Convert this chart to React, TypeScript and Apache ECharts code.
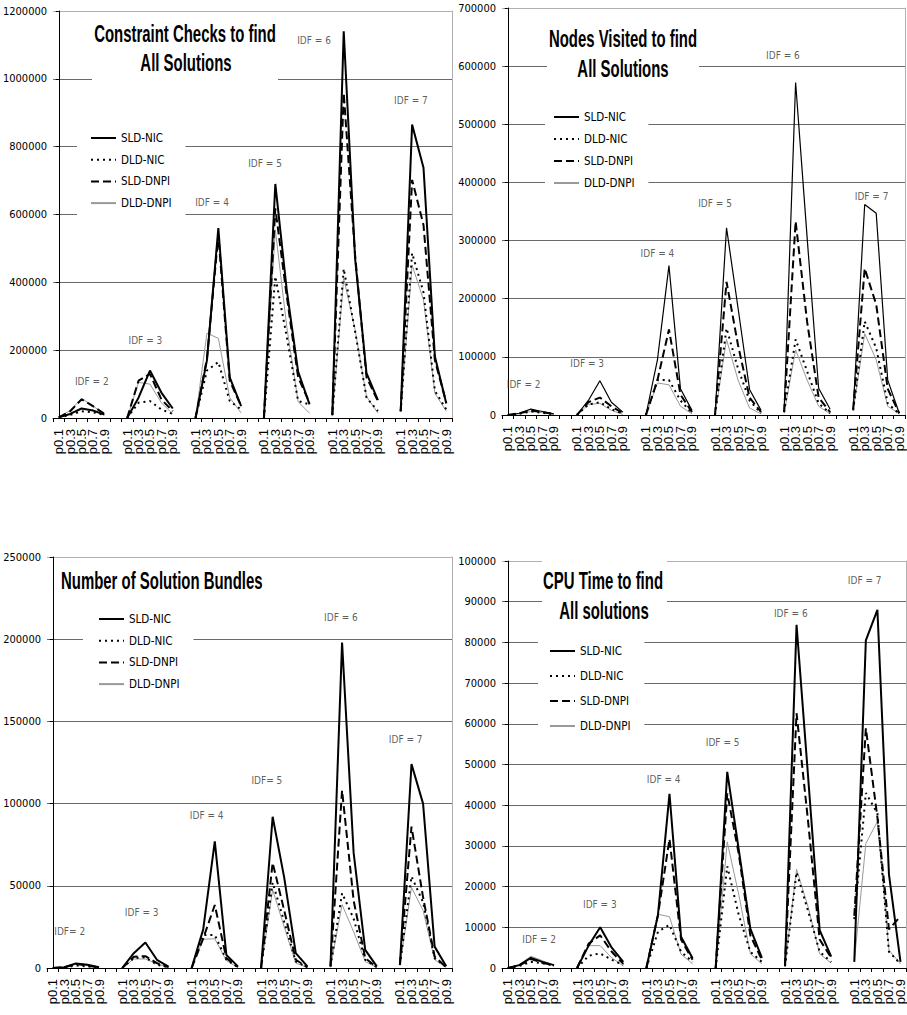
import React, { useEffect, useRef } from "react";
import * as echarts from "echarts";

// ---------- categories ----------
const pLabels = ["p0.1", "p0.3", "p0.5", "p0.7", "p0.9"];
const idfGroups = [2, 3, 4, 5, 6, 7];
const seriesNames = ["SLD-NIC", "DLD-NIC", "SLD-DNPI", "DLD-DNPI"];

// ---------- Constraint Checks (per IDF group: p0.1..p0.9) ----------
const ccSldNic = [2000, 12000, 28000, 22000, 10000, 0, 60000, 140000, 75000, 28000, 0, 170000, 560000, 120000, 35000, 0, 690000, 378000, 137000, 40000, 10000, 1140000, 470000, 132000, 53000, 20000, 865000, 738000, 181000, 43000];
const ccDldNic = [1000, 9000, 20000, 17000, 9000, 0, 45000, 50000, 25000, 12000, 0, 140000, 165000, 50000, 25000, 0, 417000, 240000, 50000, 40000, 8000, 440000, 255000, 60000, 20000, 20000, 486000, 370000, 80000, 25000];
const ccSldDnpi = [2000, 20000, 55000, 35000, 12000, 0, 110000, 130000, 55000, 20000, 0, 175000, 540000, 110000, 35000, 0, 618000, 360000, 120000, 45000, 10000, 958000, 480000, 120000, 50000, 20000, 702000, 569000, 170000, 45000];
const ccDldDnpi = [3000, 22000, 58000, 36000, 10000, 0, 105000, 100000, 45000, 12000, 0, 250000, 235000, 60000, 15000, 0, 555000, 270000, 48000, 14000, 5000, 412000, 260000, 63000, 15000, 20000, 451000, 348000, 73000, 20000];

// ---------- Nodes Visited ----------
const nvSldNic = [0, 3000, 10000, 6000, 2000, 0, 25000, 59000, 22000, 5000, 0, 95000, 257000, 45000, 8000, 0, 322000, 184000, 44000, 8000, 5000, 572000, 305000, 46000, 10000, 10000, 362000, 347000, 60000, 3000];
const nvDldNic = [0, 2000, 6000, 4000, 1000, 0, 18000, 22000, 10000, 2000, 0, 60000, 60000, 25000, 3000, 0, 149000, 80000, 25000, 3000, 5000, 130000, 75000, 20000, 3000, 8000, 161000, 115000, 20000, 2000];
const nvSldDnpi = [0, 3000, 8000, 5000, 2000, 0, 22000, 30000, 15000, 3000, 0, 60000, 147000, 35000, 5000, 0, 229000, 120000, 30000, 5000, 5000, 333000, 160000, 30000, 5000, 10000, 252000, 190000, 45000, 3000];
const nvDldDnpi = [0, 2000, 6000, 4000, 1000, 0, 18000, 20000, 8000, 1000, 0, 55000, 52000, 15000, 2000, 0, 130000, 60000, 12000, 2000, 3000, 112000, 60000, 15000, 2000, 8000, 140000, 95000, 15000, 2000];

// ---------- Number of Solution Bundles ----------
const sbSldNic = [0, 500, 2800, 2000, 500, 0, 9000, 15500, 5000, 800, 0, 23500, 77000, 8000, 1000, 0, 92000, 55000, 9000, 1000, 1000, 198000, 70000, 11000, 1000, 2000, 124000, 100000, 13000, 1000];
const sbDldNic = [0, 300, 1500, 1000, 200, 0, 6000, 6500, 2000, 400, 0, 20000, 20000, 5000, 400, 0, 52000, 28000, 4000, 400, 1000, 45500, 30000, 5000, 500, 2000, 55700, 40000, 6000, 500];
const sbSldDnpi = [0, 400, 2500, 1500, 300, 0, 6800, 7200, 3000, 500, 0, 18000, 38300, 6000, 600, 0, 64000, 35000, 5000, 500, 1000, 108000, 41000, 6000, 500, 2000, 86000, 43000, 7000, 500];
const sbDldDnpi = [0, 400, 2200, 1400, 300, 0, 5500, 5500, 2500, 300, 0, 17500, 17800, 4500, 300, 0, 47600, 25000, 3000, 300, 500, 38500, 22000, 4000, 300, 1500, 49000, 35000, 5000, 300];

// ---------- CPU Time ----------
const ctSldNic = [0, 700, 2500, 1500, 700, 0, 5500, 10000, 5000, 1500, 0, 13000, 42800, 7700, 2400, 0, 48200, 29000, 9700, 2500, 600, 84300, 47000, 9300, 2800, 1500, 80500, 88000, 23000, 1500];
const ctDldNic = [0, 500, 1500, 1200, 500, 0, 3000, 3600, 2000, 800, 0, 8900, 10600, 4000, 1500, 0, 25000, 13000, 4000, 1500, 400, 23500, 14000, 4000, 1500, 12000, 43000, 38000, 4000, 1000];
const ctSldDnpi = [0, 600, 2200, 1300, 600, 0, 6000, 8000, 4000, 1000, 0, 13000, 31700, 7000, 2000, 0, 42900, 28000, 8000, 2000, 500, 62600, 36000, 7000, 2500, 12800, 58900, 37000, 9500, 12700];
const ctDldDnpi = [0, 800, 2900, 1800, 600, 0, 5500, 5500, 2500, 500, 0, 13200, 12600, 3400, 1000, 0, 31000, 18000, 3500, 1000, 400, 24300, 15000, 3500, 1200, 1500, 30600, 36000, 4400, 1000];

// ---------- IDF annotations (category position, value) ----------
const ccIdfText = ["IDF = 2", "IDF = 3", "IDF = 4", "IDF = 5", "IDF = 6", "IDF = 7"];
const ccIdfX = [2.9, 7.6, 13.45, 18.1, 22.4, 30.9];
const ccIdfY = [108000, 229000, 636000, 750000, 1113000, 936000];
const nvIdfText = ["IDF = 2", "IDF = 3", "IDF = 4", "IDF = 5", "IDF = 6", "IDF = 7"];
const nvIdfX = [1.38, 6.9, 13.0, 18.0, 23.9, 31.6];
const nvIdfY = [53000, 88000, 277000, 364000, 618000, 376000];
const sbIdfText = ["IDF= 2", "IDF = 3", "IDF = 4", "IDF= 5", "IDF = 6", "IDF = 7"];
const sbIdfX = [1.46, 7.68, 13.3, 18.5, 24.9, 30.5];
const sbIdfY = [21900, 33800, 92700, 114000, 213000, 139000];
const ctIdfText = ["IDF = 2", "IDF = 3", "IDF = 4", "IDF = 5", "IDF = 6", "IDF = 7"];
const ctIdfX = [2.72, 7.97, 13.5, 18.6, 24.5, 30.9];
const ctIdfY = [6900, 15700, 46400, 55400, 87100, 95100];

const NARROW = "'Liberation Sans Narrow','Arial Narrow','DejaVu Sans Condensed',sans-serif";
const SANS = "'Liberation Sans',Arial,sans-serif";

const categories: string[] = [];
idfGroups.forEach((_, g) => {
  pLabels.forEach((p) => categories.push(p));
  if (g < idfGroups.length - 1) categories.push("");
});

function expand(vals: number[]) {
  const out: (number | null)[] = [];
  idfGroups.forEach((_, g) => {
    for (let k = 0; k < pLabels.length; k++) out.push(vals[g * pLabels.length + k]);
    if (g < idfGroups.length - 1) out.push(null);
  });
  return out;
}

const panels = [
  {
    grid: { left: 51, top: 11, width: 401, height: 407 },
    yMax: 1200000, yInt: 200000,
    data: [ccSldNic, ccDldNic, ccSldDnpi, ccDldDnpi], sldWidth: 2,
    idfText: ccIdfText, idfX: ccIdfX, idfY: ccIdfY,
    legend: { left: 77, top: 125, padding: [7, 14, 7, 13], itemGap: 9.7 },
  },
  {
    grid: { left: 502, top: 8, width: 403, height: 407 },
    yMax: 700000, yInt: 100000,
    data: [nvSldNic, nvDldNic, nvSldDnpi, nvDldDnpi], sldWidth: 1.2,
    idfText: nvIdfText, idfX: nvIdfX, idfY: nvIdfY,
    legend: { left: 545, top: 104, padding: [7, 14, 7, 8], itemGap: 10 },
  },
  {
    grid: { left: 47, top: 557, width: 405, height: 411 },
    yMax: 250000, yInt: 50000,
    data: [sbSldNic, sbDldNic, sbSldDnpi, sbDldDnpi], sldWidth: 2,
    idfText: sbIdfText, idfX: sbIdfX, idfY: sbIdfY,
    legend: { left: 83, top: 606, padding: [7, 14, 7, 15], itemGap: 9.7 },
  },
  {
    grid: { left: 502, top: 561, width: 405, height: 407 },
    yMax: 100000, yInt: 10000,
    data: [ctSldNic, ctDldNic, ctSldDnpi, ctDldDnpi], sldWidth: 2,
    idfText: ctIdfText, idfX: ctIdfX, idfY: ctIdfY,
    legend: { left: 538, top: 638, padding: [7, 14, 7, 11], itemGap: 13 },
  },
];

function lineStyleFor(s: number, sldWidth: number) {
  if (s === 0) return { color: "#000", width: sldWidth, type: "solid" };
  if (s === 1) return { color: "#000", width: 2, type: [2, 4] };
  if (s === 2) return { color: "#000", width: 2, type: [8, 4] };
  return { color: "#999", width: 1, type: "solid" };
}

function titleText(text: string, x: number, y: number, align: string) {
  return {
    type: "text",
    x, y, scaleX: 0.65, z: 20,
    style: {
      text, fill: "#000", fontSize: 23, fontWeight: "bold", fontFamily: SANS,
      align, verticalAlign: "middle", textAlign: align, textVerticalAlign: "middle",
    },
  };
}

function whiteRect(x1: number, y1: number, x2: number, y2: number) {
  return { type: "rect", z: 10, shape: { x: x1, y: y1, width: x2 - x1, height: y2 - y1 }, style: { fill: "#fff" } };
}

function buildOption() {
  const grids: any[] = [];
  const xAxes: any[] = [];
  const yAxes: any[] = [];
  const series: any[] = [];
  const legends: any[] = [];

  panels.forEach((p, g) => {
    grids.push({ ...p.grid, show: false });
    const nTicks = Math.round(p.yMax / p.yInt) + 1;
    const splitColors = Array.from({ length: nTicks }, (_, i) => (i === nTicks - 1 ? "#b0b0b0" : "#6a6a6a"));
    xAxes.push({
      type: "category", gridIndex: g, data: categories, boundaryGap: true,
      axisLine: { show: true, lineStyle: { color: "#000", width: 1 } },
      axisTick: { show: true, interval: 0, length: 4, lineStyle: { color: "#000" } },
      axisLabel: { interval: 0, rotate: 90, fontSize: 13, fontFamily: SANS, color: "#000", margin: 11 },
      splitLine: { show: false },
    });
    xAxes.push({ type: "value", gridIndex: g, min: -0.5, max: 34.5, show: false });
    yAxes.push({
      type: "value", gridIndex: g, min: 0, max: p.yMax, interval: p.yInt,
      axisLine: { show: true, lineStyle: { color: "#000", width: 1 } },
      axisTick: { show: true, length: 3, lineStyle: { color: "#000" } },
      axisLabel: { fontSize: 11, fontFamily: NARROW, color: "#000", margin: 6, formatter: (v: number) => String(v) },
      splitLine: { show: true, lineStyle: { color: splitColors, width: 1 } },
    });
    yAxes.push({
      type: "value", gridIndex: g, min: 0, max: p.yMax, position: "right",
      axisLine: { show: true, lineStyle: { color: "#b0b0b0", width: 1 } },
      axisTick: { show: false }, axisLabel: { show: false }, splitLine: { show: false },
    });
    const names = seriesNames.map((n) => `${n}@${g}`);
    p.data.forEach((vals, s) => {
      series.push({
        type: "line", name: names[s], xAxisIndex: 2 * g, yAxisIndex: 2 * g,
        data: expand(vals), symbol: "none", showSymbol: false, connectNulls: false,
        lineStyle: lineStyleFor(s, p.sldWidth), itemStyle: { color: s === 3 ? "#999" : "#000" },
        z: s === 3 ? 2 : 3, silent: true, emphasis: { disabled: true },
      });
    });
    series.push({
      type: "scatter", xAxisIndex: 2 * g + 1, yAxisIndex: 2 * g,
      data: p.idfX.map((x, i) => [x, p.idfY[i]]),
      symbolSize: 1, itemStyle: { color: "rgba(0,0,0,0)" }, silent: true, z: 4,
      label: {
        show: true, position: "inside", fontSize: 10, fontFamily: NARROW, color: "#333",
        formatter: (prm: any) => p.idfText[prm.dataIndex],
      },
    });
    legends.push({
      data: names, orient: "vertical", left: p.legend.left, top: p.legend.top,
      padding: p.legend.padding, itemGap: p.legend.itemGap, itemWidth: 25, itemHeight: 12,
      backgroundColor: "#fff", selectedMode: false, z: 15,
      itemStyle: { opacity: 0, borderWidth: 0 },
      textStyle: { fontSize: 11.5, fontFamily: NARROW, color: "#000" },
      formatter: (n: string) => n.split("@")[0],
    });
  });

  const graphic: any[] = [
    whiteRect(92, 15, 278, 86),
    titleText("Constraint Checks to find", 185, 34, "center"),
    titleText("All Solutions", 186, 63, "center"),
    whiteRect(547, 17, 699, 90),
    titleText("Nodes Visited to find", 623, 39, "center"),
    titleText("All Solutions", 623, 69, "center"),
    titleText("Number of Solution Bundles", 61, 581, "left"),
    whiteRect(542, 553, 667, 628),
    titleText("CPU Time to find", 603, 581, "center"),
    titleText("All solutions", 604, 611, "center"),
  ];

  return {
    animation: false,
    backgroundColor: "#fff",
    grid: grids,
    xAxis: xAxes,
    yAxis: yAxes,
    series,
    legend: legends,
    graphic,
  };
}

export default function App() {
  const ref = useRef<HTMLDivElement>(null);
  useEffect(() => {
    if (!ref.current) return;
    const chart = echarts.init(ref.current, undefined, { renderer: "svg" });
    chart.setOption(buildOption() as any);
    return () => chart.dispose();
  }, []);
  return <div ref={ref} style={{ position: "fixed", left: 0, top: 0, width: 907, height: 1015, background: "#fff" }} />;
}
